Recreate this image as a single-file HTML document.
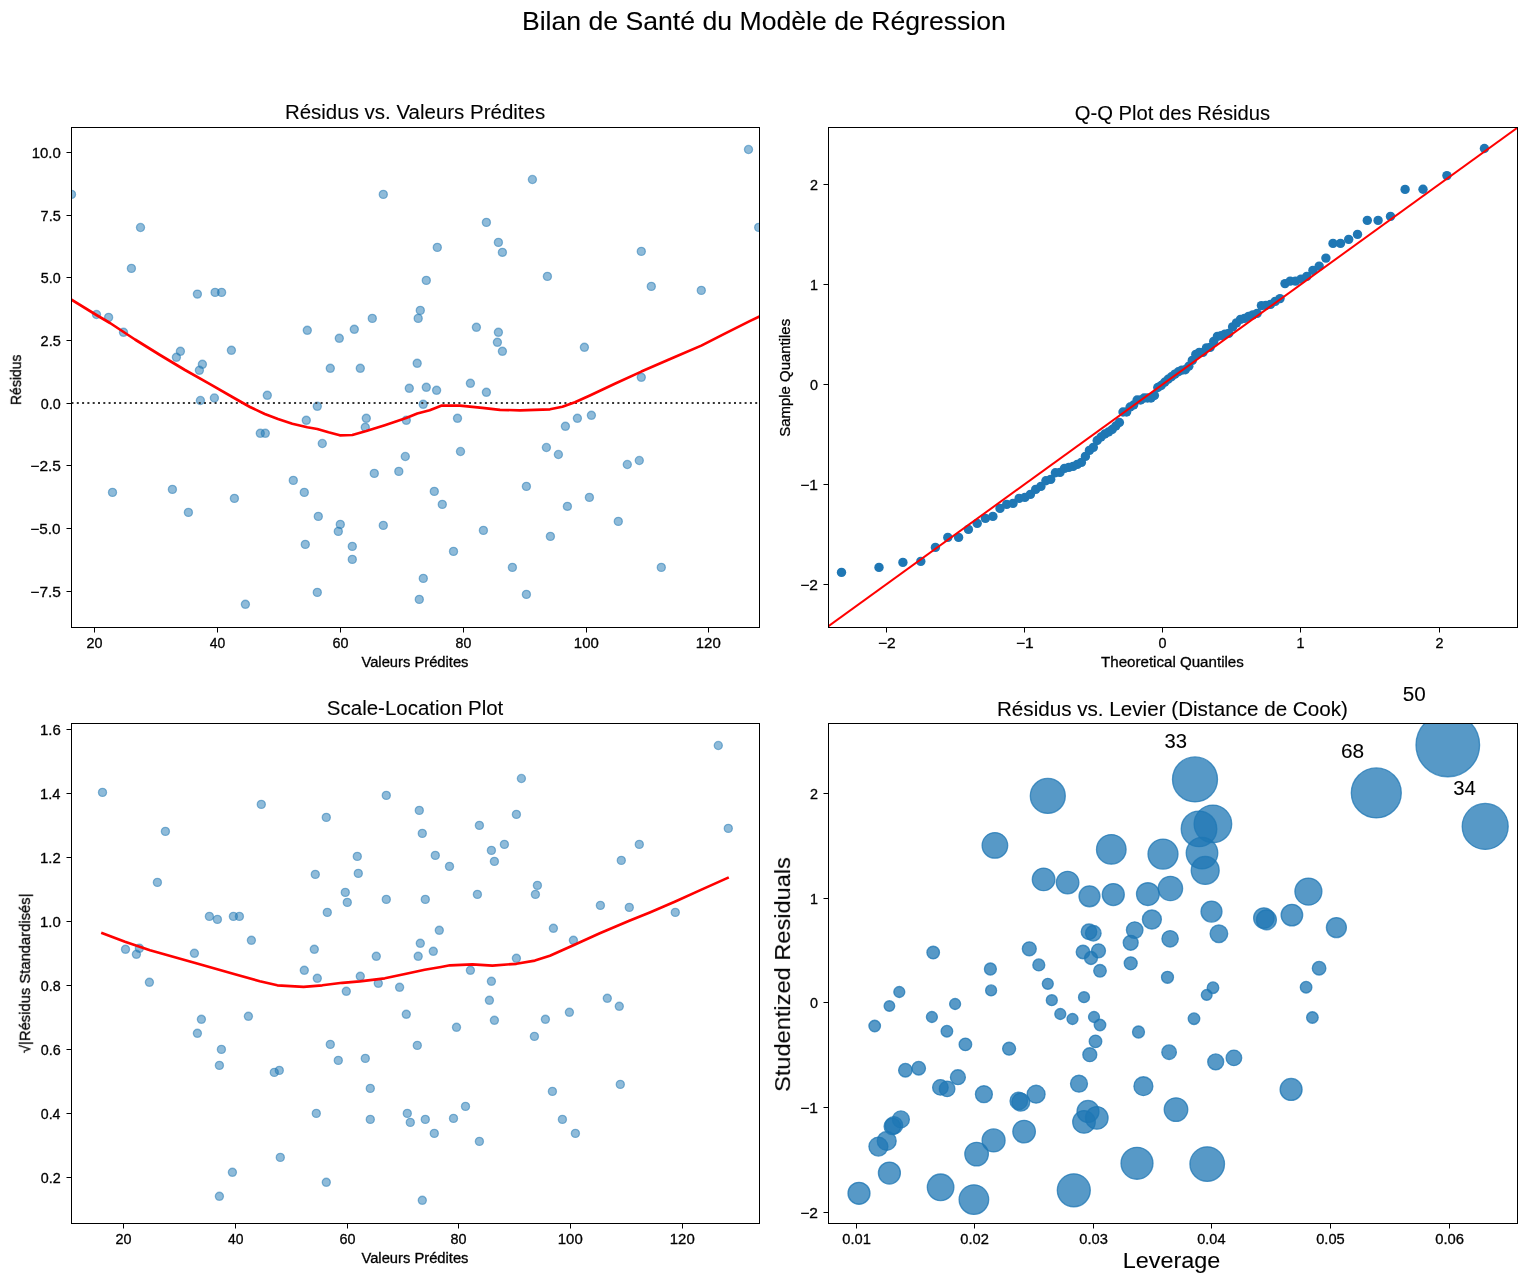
<!DOCTYPE html>
<html><head><meta charset="utf-8"><title>Bilan</title><style>html,body{margin:0;padding:0;background:#fff}svg{display:block}</style></head><body>
<svg width="1526" height="1281" viewBox="0 0 1526 1281" font-family="Liberation Sans, sans-serif" fill="#000">
<rect width="1526" height="1281" fill="#fff"/>
<defs>
<clipPath id="c1"><rect x="71.5" y="127.5" width="688.0" height="500.0"/></clipPath>
<clipPath id="c2"><rect x="828.5" y="127.5" width="689.0" height="500.0"/></clipPath>
<clipPath id="c3"><rect x="71.5" y="723.5" width="688.0" height="500.0"/></clipPath>
<clipPath id="c4"><rect x="828.5" y="723.5" width="689.0" height="500.0"/></clipPath>
</defs>
<g clip-path="url(#c1)" fill="#1f77b4" fill-opacity="0.5" stroke="#1f77b4" stroke-opacity="0.5" stroke-width="1.33">
<circle cx="71.5" cy="194.4" r="4.05"/>
<circle cx="140.5" cy="227.5" r="4.05"/>
<circle cx="131.4" cy="268.4" r="4.05"/>
<circle cx="96.5" cy="314.5" r="4.05"/>
<circle cx="108.6" cy="317.4" r="4.05"/>
<circle cx="123.5" cy="332.3" r="4.05"/>
<circle cx="197.4" cy="294.1" r="4.05"/>
<circle cx="215.1" cy="292.4" r="4.05"/>
<circle cx="221.6" cy="292.4" r="4.05"/>
<circle cx="180.4" cy="351.3" r="4.05"/>
<circle cx="176.4" cy="357.3" r="4.05"/>
<circle cx="202.4" cy="364.3" r="4.05"/>
<circle cx="199.4" cy="370.3" r="4.05"/>
<circle cx="231.4" cy="350.3" r="4.05"/>
<circle cx="200.4" cy="400.5" r="4.05"/>
<circle cx="214.4" cy="398.0" r="4.05"/>
<circle cx="267.3" cy="395.3" r="4.05"/>
<circle cx="307.3" cy="330.3" r="4.05"/>
<circle cx="383.3" cy="194.4" r="4.05"/>
<circle cx="372.3" cy="318.4" r="4.05"/>
<circle cx="354.3" cy="329.3" r="4.05"/>
<circle cx="339.3" cy="338.3" r="4.05"/>
<circle cx="330.3" cy="368.3" r="4.05"/>
<circle cx="360.3" cy="368.3" r="4.05"/>
<circle cx="317.3" cy="406.3" r="4.05"/>
<circle cx="306.3" cy="420.3" r="4.05"/>
<circle cx="366.3" cy="418.3" r="4.05"/>
<circle cx="365.3" cy="427.3" r="4.05"/>
<circle cx="260.3" cy="433.3" r="4.05"/>
<circle cx="265.3" cy="433.3" r="4.05"/>
<circle cx="437.3" cy="247.4" r="4.05"/>
<circle cx="426.3" cy="280.4" r="4.05"/>
<circle cx="420.3" cy="310.4" r="4.05"/>
<circle cx="418.2" cy="318.4" r="4.05"/>
<circle cx="417.2" cy="363.3" r="4.05"/>
<circle cx="409.3" cy="388.3" r="4.05"/>
<circle cx="426.3" cy="387.3" r="4.05"/>
<circle cx="436.6" cy="390.3" r="4.05"/>
<circle cx="423.2" cy="404.3" r="4.05"/>
<circle cx="406.3" cy="420.3" r="4.05"/>
<circle cx="532.4" cy="179.5" r="4.05"/>
<circle cx="486.4" cy="222.4" r="4.05"/>
<circle cx="498.4" cy="242.4" r="4.05"/>
<circle cx="502.4" cy="252.4" r="4.05"/>
<circle cx="547.4" cy="276.4" r="4.05"/>
<circle cx="641.3" cy="251.4" r="4.05"/>
<circle cx="651.3" cy="286.4" r="4.05"/>
<circle cx="701.3" cy="290.4" r="4.05"/>
<circle cx="748.5" cy="149.5" r="4.05"/>
<circle cx="758.7" cy="227.4" r="4.05"/>
<circle cx="476.4" cy="327.3" r="4.05"/>
<circle cx="498.4" cy="332.3" r="4.05"/>
<circle cx="497.4" cy="342.3" r="4.05"/>
<circle cx="502.4" cy="351.3" r="4.05"/>
<circle cx="584.4" cy="347.3" r="4.05"/>
<circle cx="470.4" cy="383.3" r="4.05"/>
<circle cx="486.4" cy="392.3" r="4.05"/>
<circle cx="641.3" cy="377.3" r="4.05"/>
<circle cx="457.5" cy="418.3" r="4.05"/>
<circle cx="565.4" cy="426.3" r="4.05"/>
<circle cx="577.4" cy="418.3" r="4.05"/>
<circle cx="591.4" cy="415.3" r="4.05"/>
<circle cx="322.3" cy="443.5" r="4.05"/>
<circle cx="405.3" cy="456.5" r="4.05"/>
<circle cx="398.8" cy="471.4" r="4.05"/>
<circle cx="374.3" cy="473.4" r="4.05"/>
<circle cx="293.3" cy="480.4" r="4.05"/>
<circle cx="304.3" cy="492.4" r="4.05"/>
<circle cx="112.5" cy="492.4" r="4.05"/>
<circle cx="172.4" cy="489.4" r="4.05"/>
<circle cx="234.4" cy="498.4" r="4.05"/>
<circle cx="188.4" cy="512.4" r="4.05"/>
<circle cx="434.3" cy="491.4" r="4.05"/>
<circle cx="442.3" cy="504.4" r="4.05"/>
<circle cx="318.3" cy="516.4" r="4.05"/>
<circle cx="340.3" cy="524.4" r="4.05"/>
<circle cx="338.3" cy="531.4" r="4.05"/>
<circle cx="383.3" cy="525.4" r="4.05"/>
<circle cx="305.3" cy="544.4" r="4.05"/>
<circle cx="352.3" cy="546.4" r="4.05"/>
<circle cx="352.3" cy="559.4" r="4.05"/>
<circle cx="423.3" cy="578.4" r="4.05"/>
<circle cx="317.3" cy="592.4" r="4.05"/>
<circle cx="419.3" cy="599.4" r="4.05"/>
<circle cx="245.4" cy="604.3" r="4.05"/>
<circle cx="460.5" cy="451.5" r="4.05"/>
<circle cx="483.4" cy="530.4" r="4.05"/>
<circle cx="453.5" cy="551.4" r="4.05"/>
<circle cx="512.4" cy="567.4" r="4.05"/>
<circle cx="526.4" cy="594.4" r="4.05"/>
<circle cx="526.4" cy="486.4" r="4.05"/>
<circle cx="546.4" cy="447.5" r="4.05"/>
<circle cx="558.4" cy="454.5" r="4.05"/>
<circle cx="567.4" cy="506.4" r="4.05"/>
<circle cx="550.4" cy="536.4" r="4.05"/>
<circle cx="589.4" cy="497.4" r="4.05"/>
<circle cx="618.3" cy="521.4" r="4.05"/>
<circle cx="627.3" cy="464.5" r="4.05"/>
<circle cx="639.3" cy="460.5" r="4.05"/>
<circle cx="661.3" cy="567.4" r="4.05"/>
</g>
<path d="M71.5 403H759.5" stroke="#333" stroke-width="2" stroke-dasharray="2 3.3" fill="none"/>
<path clip-path="url(#c1)" d="M71.5 299.7 L96.4 315.0 L110.0 323.0 L135.0 339.5 L160.0 355.0 L185.0 370.0 L210.0 384.2 L235.0 398.5 L250.0 407.0 L264.8 414.0 L278.0 419.0 L292.3 423.7 L307.3 427.3 L317.3 429.0 L328.5 432.3 L339.8 435.3 L352.3 435.0 L366.3 431.0 L384.8 425.2 L406.2 418.0 L417.3 413.5 L429.7 410.2 L441.2 405.7 L460.0 405.6 L482.4 407.8 L500.0 409.8 L520.0 410.3 L550.0 409.3 L562.4 406.8 L574.9 402.3 L589.9 395.5 L614.8 383.8 L641.3 371.6 L674.8 357.1 L701.3 345.6 L724.8 333.6 L749.7 321.1 L759.5 316.4" fill="none" stroke="#f00" stroke-width="2.67" stroke-linejoin="round" stroke-linecap="butt"/>
<rect x="71.5" y="127.5" width="688.0" height="500.0" fill="none" stroke="#000" stroke-width="1" shape-rendering="crispEdges"/>
<path d="M94 627.5h1v5h-1zM217 627.5h1v5h-1zM340 627.5h1v5h-1zM463 627.5h1v5h-1zM586 627.5h1v5h-1zM708 627.5h1v5h-1z" fill="#000"/>
<path d="M71.5 152v1h-5v-1zM71.5 215v1h-5v-1zM71.5 277v1h-5v-1zM71.5 340v1h-5v-1zM71.5 403v1h-5v-1zM71.5 465v1h-5v-1zM71.5 528v1h-5v-1zM71.5 591v1h-5v-1z" fill="#000"/>
<g clip-path="url(#c2)" fill="#1f77b4">
<circle cx="841.5" cy="572.4" r="4.7"/>
<circle cx="879.0" cy="567.4" r="4.7"/>
<circle cx="902.9" cy="562.4" r="4.7"/>
<circle cx="920.8" cy="561.4" r="4.7"/>
<circle cx="935.4" cy="547.4" r="4.7"/>
<circle cx="947.8" cy="537.4" r="4.7"/>
<circle cx="958.6" cy="537.4" r="4.7"/>
<circle cx="968.4" cy="529.4" r="4.7"/>
<circle cx="977.2" cy="523.4" r="4.7"/>
<circle cx="985.4" cy="518.4" r="4.7"/>
<circle cx="992.9" cy="516.4" r="4.7"/>
<circle cx="1000.0" cy="508.4" r="4.7"/>
<circle cx="1006.7" cy="504.4" r="4.7"/>
<circle cx="1013.0" cy="503.4" r="4.7"/>
<circle cx="1019.1" cy="498.4" r="4.7"/>
<circle cx="1024.9" cy="497.4" r="4.7"/>
<circle cx="1030.4" cy="494.4" r="4.7"/>
<circle cx="1035.7" cy="489.4" r="4.7"/>
<circle cx="1040.9" cy="486.4" r="4.7"/>
<circle cx="1045.9" cy="480.7" r="4.7"/>
<circle cx="1050.7" cy="479.4" r="4.7"/>
<circle cx="1055.4" cy="472.7" r="4.7"/>
<circle cx="1060.0" cy="472.4" r="4.7"/>
<circle cx="1064.5" cy="468.4" r="4.7"/>
<circle cx="1068.8" cy="467.4" r="4.7"/>
<circle cx="1073.1" cy="466.4" r="4.7"/>
<circle cx="1077.3" cy="464.4" r="4.7"/>
<circle cx="1081.4" cy="462.4" r="4.7"/>
<circle cx="1085.4" cy="456.4" r="4.7"/>
<circle cx="1089.4" cy="450.4" r="4.7"/>
<circle cx="1093.3" cy="447.4" r="4.7"/>
<circle cx="1097.2" cy="440.5" r="4.7"/>
<circle cx="1101.0" cy="437.0" r="4.7"/>
<circle cx="1104.8" cy="434.0" r="4.7"/>
<circle cx="1108.5" cy="432.0" r="4.7"/>
<circle cx="1112.2" cy="429.5" r="4.7"/>
<circle cx="1115.8" cy="426.0" r="4.7"/>
<circle cx="1119.4" cy="422.5" r="4.7"/>
<circle cx="1123.0" cy="412.0" r="4.7"/>
<circle cx="1126.6" cy="412.0" r="4.7"/>
<circle cx="1130.1" cy="407.0" r="4.7"/>
<circle cx="1133.6" cy="405.0" r="4.7"/>
<circle cx="1137.1" cy="400.0" r="4.7"/>
<circle cx="1140.6" cy="400.0" r="4.7"/>
<circle cx="1144.1" cy="398.0" r="4.7"/>
<circle cx="1147.5" cy="398.0" r="4.7"/>
<circle cx="1151.0" cy="398.0" r="4.7"/>
<circle cx="1154.4" cy="395.5" r="4.7"/>
<circle cx="1157.8" cy="387.5" r="4.7"/>
<circle cx="1161.2" cy="385.5" r="4.7"/>
<circle cx="1164.7" cy="382.3" r="4.7"/>
<circle cx="1168.1" cy="379.3" r="4.7"/>
<circle cx="1171.5" cy="376.8" r="4.7"/>
<circle cx="1174.9" cy="374.1" r="4.7"/>
<circle cx="1178.4" cy="371.8" r="4.7"/>
<circle cx="1181.8" cy="370.1" r="4.7"/>
<circle cx="1185.3" cy="369.8" r="4.7"/>
<circle cx="1188.8" cy="366.3" r="4.7"/>
<circle cx="1192.3" cy="360.4" r="4.7"/>
<circle cx="1195.8" cy="354.4" r="4.7"/>
<circle cx="1199.3" cy="352.4" r="4.7"/>
<circle cx="1202.9" cy="352.4" r="4.7"/>
<circle cx="1206.5" cy="347.9" r="4.7"/>
<circle cx="1210.1" cy="347.4" r="4.7"/>
<circle cx="1213.7" cy="341.4" r="4.7"/>
<circle cx="1217.4" cy="336.4" r="4.7"/>
<circle cx="1221.1" cy="335.6" r="4.7"/>
<circle cx="1224.9" cy="334.1" r="4.7"/>
<circle cx="1228.7" cy="333.4" r="4.7"/>
<circle cx="1232.6" cy="326.9" r="4.7"/>
<circle cx="1236.5" cy="322.9" r="4.7"/>
<circle cx="1240.5" cy="319.4" r="4.7"/>
<circle cx="1244.5" cy="318.4" r="4.7"/>
<circle cx="1248.6" cy="316.4" r="4.7"/>
<circle cx="1252.8" cy="314.9" r="4.7"/>
<circle cx="1257.1" cy="313.4" r="4.7"/>
<circle cx="1261.4" cy="305.6" r="4.7"/>
<circle cx="1265.9" cy="305.4" r="4.7"/>
<circle cx="1270.5" cy="304.4" r="4.7"/>
<circle cx="1275.2" cy="301.4" r="4.7"/>
<circle cx="1280.0" cy="298.6" r="4.7"/>
<circle cx="1285.0" cy="283.6" r="4.7"/>
<circle cx="1290.2" cy="281.1" r="4.7"/>
<circle cx="1295.5" cy="281.1" r="4.7"/>
<circle cx="1301.0" cy="279.1" r="4.7"/>
<circle cx="1306.8" cy="276.4" r="4.7"/>
<circle cx="1312.9" cy="270.4" r="4.7"/>
<circle cx="1319.2" cy="266.1" r="4.7"/>
<circle cx="1325.9" cy="258.1" r="4.7"/>
<circle cx="1333.0" cy="243.4" r="4.7"/>
<circle cx="1340.5" cy="243.4" r="4.7"/>
<circle cx="1348.7" cy="239.4" r="4.7"/>
<circle cx="1357.5" cy="234.4" r="4.7"/>
<circle cx="1367.3" cy="220.4" r="4.7"/>
<circle cx="1378.1" cy="220.4" r="4.7"/>
<circle cx="1390.5" cy="216.4" r="4.7"/>
<circle cx="1405.1" cy="189.4" r="4.7"/>
<circle cx="1423.0" cy="189.2" r="4.7"/>
<circle cx="1446.9" cy="175.6" r="4.7"/>
<circle cx="1484.4" cy="148.5" r="4.7"/>
</g>
<path clip-path="url(#c2)" d="M826.7 627.5 L1519.5 126.2" fill="none" stroke="#f00" stroke-width="2.00" stroke-linejoin="round" stroke-linecap="butt"/>
<rect x="828.5" y="127.5" width="689.0" height="500.0" fill="none" stroke="#000" stroke-width="1" shape-rendering="crispEdges"/>
<path d="M886 627.5h1v5h-1zM1024 627.5h1v5h-1zM1162 627.5h1v5h-1zM1300 627.5h1v5h-1zM1439 627.5h1v5h-1z" fill="#000"/>
<path d="M828.5 184v1h-5v-1zM828.5 284v1h-5v-1zM828.5 384v1h-5v-1zM828.5 484v1h-5v-1zM828.5 584v1h-5v-1z" fill="#000"/>
<g clip-path="url(#c3)" fill="#1f77b4" fill-opacity="0.5" stroke="#1f77b4" stroke-opacity="0.5" stroke-width="1.33">
<circle cx="102.5" cy="792.4" r="4.05"/>
<circle cx="165.4" cy="831.4" r="4.05"/>
<circle cx="157.4" cy="882.4" r="4.05"/>
<circle cx="261.3" cy="804.4" r="4.05"/>
<circle cx="326.3" cy="817.4" r="4.05"/>
<circle cx="386.3" cy="795.4" r="4.05"/>
<circle cx="419.3" cy="810.4" r="4.05"/>
<circle cx="422.3" cy="833.4" r="4.05"/>
<circle cx="435.3" cy="855.4" r="4.05"/>
<circle cx="357.3" cy="856.4" r="4.05"/>
<circle cx="358.3" cy="873.4" r="4.05"/>
<circle cx="315.3" cy="874.4" r="4.05"/>
<circle cx="345.3" cy="892.4" r="4.05"/>
<circle cx="347.3" cy="902.4" r="4.05"/>
<circle cx="386.3" cy="899.4" r="4.05"/>
<circle cx="425.3" cy="899.4" r="4.05"/>
<circle cx="327.3" cy="912.4" r="4.05"/>
<circle cx="209.4" cy="916.4" r="4.05"/>
<circle cx="217.4" cy="919.4" r="4.05"/>
<circle cx="233.4" cy="916.4" r="4.05"/>
<circle cx="239.4" cy="916.4" r="4.05"/>
<circle cx="251.4" cy="940.3" r="4.05"/>
<circle cx="439.3" cy="930.3" r="4.05"/>
<circle cx="420.3" cy="943.3" r="4.05"/>
<circle cx="433.3" cy="951.3" r="4.05"/>
<circle cx="418.2" cy="956.3" r="4.05"/>
<circle cx="125.5" cy="949.3" r="4.05"/>
<circle cx="139.4" cy="948.3" r="4.05"/>
<circle cx="136.4" cy="954.3" r="4.05"/>
<circle cx="194.4" cy="953.3" r="4.05"/>
<circle cx="314.3" cy="949.3" r="4.05"/>
<circle cx="376.3" cy="956.3" r="4.05"/>
<circle cx="304.3" cy="970.3" r="4.05"/>
<circle cx="317.3" cy="978.3" r="4.05"/>
<circle cx="360.3" cy="976.3" r="4.05"/>
<circle cx="378.3" cy="983.3" r="4.05"/>
<circle cx="149.4" cy="982.3" r="4.05"/>
<circle cx="399.6" cy="987.3" r="4.05"/>
<circle cx="346.3" cy="991.3" r="4.05"/>
<circle cx="406.3" cy="1014.3" r="4.05"/>
<circle cx="248.4" cy="1016.3" r="4.05"/>
<circle cx="201.4" cy="1019.3" r="4.05"/>
<circle cx="197.4" cy="1033.3" r="4.05"/>
<circle cx="718.3" cy="745.5" r="4.05"/>
<circle cx="728.3" cy="828.4" r="4.05"/>
<circle cx="521.4" cy="778.5" r="4.05"/>
<circle cx="516.4" cy="814.4" r="4.05"/>
<circle cx="479.4" cy="825.4" r="4.05"/>
<circle cx="504.4" cy="844.4" r="4.05"/>
<circle cx="491.4" cy="850.4" r="4.05"/>
<circle cx="494.4" cy="861.4" r="4.05"/>
<circle cx="449.5" cy="866.4" r="4.05"/>
<circle cx="639.3" cy="844.4" r="4.05"/>
<circle cx="621.3" cy="860.4" r="4.05"/>
<circle cx="537.4" cy="885.4" r="4.05"/>
<circle cx="535.4" cy="894.4" r="4.05"/>
<circle cx="477.4" cy="894.4" r="4.05"/>
<circle cx="600.4" cy="905.4" r="4.05"/>
<circle cx="629.3" cy="907.4" r="4.05"/>
<circle cx="675.3" cy="912.4" r="4.05"/>
<circle cx="553.4" cy="928.3" r="4.05"/>
<circle cx="573.4" cy="940.3" r="4.05"/>
<circle cx="516.4" cy="958.3" r="4.05"/>
<circle cx="470.4" cy="970.3" r="4.05"/>
<circle cx="491.4" cy="981.3" r="4.05"/>
<circle cx="489.4" cy="1000.3" r="4.05"/>
<circle cx="607.3" cy="998.3" r="4.05"/>
<circle cx="619.3" cy="1006.3" r="4.05"/>
<circle cx="569.4" cy="1012.3" r="4.05"/>
<circle cx="545.4" cy="1019.3" r="4.05"/>
<circle cx="494.4" cy="1020.3" r="4.05"/>
<circle cx="456.5" cy="1027.3" r="4.05"/>
<circle cx="534.4" cy="1036.4" r="4.05"/>
<circle cx="221.4" cy="1049.4" r="4.05"/>
<circle cx="219.4" cy="1065.4" r="4.05"/>
<circle cx="279.3" cy="1070.4" r="4.05"/>
<circle cx="274.3" cy="1072.4" r="4.05"/>
<circle cx="330.3" cy="1044.4" r="4.05"/>
<circle cx="338.3" cy="1060.4" r="4.05"/>
<circle cx="365.3" cy="1058.4" r="4.05"/>
<circle cx="417.3" cy="1045.4" r="4.05"/>
<circle cx="370.3" cy="1088.4" r="4.05"/>
<circle cx="316.3" cy="1113.4" r="4.05"/>
<circle cx="370.3" cy="1119.4" r="4.05"/>
<circle cx="407.3" cy="1113.4" r="4.05"/>
<circle cx="410.3" cy="1122.4" r="4.05"/>
<circle cx="425.3" cy="1119.4" r="4.05"/>
<circle cx="434.3" cy="1133.4" r="4.05"/>
<circle cx="280.3" cy="1157.4" r="4.05"/>
<circle cx="232.4" cy="1172.3" r="4.05"/>
<circle cx="326.3" cy="1182.3" r="4.05"/>
<circle cx="219.4" cy="1196.3" r="4.05"/>
<circle cx="422.3" cy="1200.3" r="4.05"/>
<circle cx="620.3" cy="1084.4" r="4.05"/>
<circle cx="552.4" cy="1091.4" r="4.05"/>
<circle cx="465.5" cy="1106.4" r="4.05"/>
<circle cx="453.5" cy="1118.4" r="4.05"/>
<circle cx="562.4" cy="1119.4" r="4.05"/>
<circle cx="575.4" cy="1133.4" r="4.05"/>
<circle cx="479.4" cy="1141.4" r="4.05"/>
</g>
<path clip-path="url(#c3)" d="M101.2 932.8 L125.0 941.8 L150.0 950.3 L194.4 962.8 L234.9 974.3 L259.8 981.3 L277.3 985.3 L303.6 986.8 L322.3 985.3 L342.3 982.8 L359.8 981.3 L384.8 978.3 L406.2 973.8 L424.7 969.8 L441.0 967.0 L450.0 965.3 L472.4 964.3 L492.4 965.6 L516.4 963.8 L534.9 960.6 L549.9 955.8 L573.4 945.3 L599.8 933.3 L629.3 920.8 L649.8 912.4 L675.3 901.4 L699.8 890.4 L728.8 877.4" fill="none" stroke="#f00" stroke-width="2.67" stroke-linejoin="round" stroke-linecap="butt"/>
<rect x="71.5" y="723.5" width="688.0" height="500.0" fill="none" stroke="#000" stroke-width="1" shape-rendering="crispEdges"/>
<path d="M123 1223.5h1v5h-1zM235 1223.5h1v5h-1zM347 1223.5h1v5h-1zM458 1223.5h1v5h-1zM570 1223.5h1v5h-1zM682 1223.5h1v5h-1z" fill="#000"/>
<path d="M71.5 729v1h-5v-1zM71.5 793v1h-5v-1zM71.5 857v1h-5v-1zM71.5 921v1h-5v-1zM71.5 985v1h-5v-1zM71.5 1049v1h-5v-1zM71.5 1113v1h-5v-1zM71.5 1177v1h-5v-1z" fill="#000"/>
<g clip-path="url(#c4)" fill="#1f77b4" fill-opacity="0.75" stroke="#1f77b4" stroke-opacity="0.75" stroke-width="1.33">
<circle cx="1447.8" cy="745.0" r="31.78"/>
<circle cx="1376.3" cy="792.9" r="24.98"/>
<circle cx="1485.2" cy="826.4" r="22.98"/>
<circle cx="1195.0" cy="779.4" r="22.48"/>
<circle cx="1212.9" cy="823.9" r="18.78"/>
<circle cx="1199.0" cy="828.9" r="17.78"/>
<circle cx="1202.0" cy="853.1" r="15.78"/>
<circle cx="1205.2" cy="870.4" r="13.98"/>
<circle cx="1163.0" cy="854.1" r="14.98"/>
<circle cx="1170.4" cy="888.5" r="12.18"/>
<circle cx="1147.9" cy="894.1" r="11.38"/>
<circle cx="1308.4" cy="891.6" r="13.48"/>
<circle cx="1211.5" cy="911.6" r="10.48"/>
<circle cx="1151.9" cy="919.5" r="9.48"/>
<circle cx="1263.9" cy="918.1" r="10.28"/>
<circle cx="1266.4" cy="919.8" r="9.98"/>
<circle cx="1291.9" cy="915.1" r="10.78"/>
<circle cx="1336.4" cy="927.6" r="9.98"/>
<circle cx="1218.9" cy="933.8" r="8.78"/>
<circle cx="1170.1" cy="938.8" r="8.18"/>
<circle cx="1319.1" cy="968.2" r="6.78"/>
<circle cx="1167.5" cy="977.3" r="5.98"/>
<circle cx="1213.0" cy="987.7" r="5.78"/>
<circle cx="1306.1" cy="987.2" r="5.78"/>
<circle cx="1206.7" cy="994.9" r="5.38"/>
<circle cx="1047.8" cy="795.9" r="17.48"/>
<circle cx="994.9" cy="845.4" r="12.78"/>
<circle cx="1111.3" cy="849.4" r="14.78"/>
<circle cx="1043.6" cy="879.4" r="11.28"/>
<circle cx="1067.6" cy="882.6" r="11.28"/>
<circle cx="1089.5" cy="896.3" r="10.48"/>
<circle cx="1113.3" cy="894.6" r="10.98"/>
<circle cx="1134.7" cy="930.1" r="8.28"/>
<circle cx="1130.7" cy="942.8" r="7.48"/>
<circle cx="1089.0" cy="931.8" r="7.78"/>
<circle cx="1093.3" cy="933.3" r="7.78"/>
<circle cx="1029.3" cy="948.8" r="6.98"/>
<circle cx="933.2" cy="952.5" r="6.28"/>
<circle cx="1083.0" cy="952.0" r="6.78"/>
<circle cx="1098.5" cy="950.8" r="6.98"/>
<circle cx="1091.0" cy="958.0" r="6.48"/>
<circle cx="1130.7" cy="963.3" r="6.48"/>
<circle cx="1038.8" cy="964.9" r="5.98"/>
<circle cx="990.4" cy="969.0" r="5.98"/>
<circle cx="1100.0" cy="970.8" r="6.28"/>
<circle cx="1047.8" cy="983.8" r="5.48"/>
<circle cx="991.1" cy="990.4" r="5.48"/>
<circle cx="899.3" cy="992.0" r="5.48"/>
<circle cx="1084.0" cy="997.2" r="5.48"/>
<circle cx="1051.8" cy="1000.2" r="5.48"/>
<circle cx="955.1" cy="1004.0" r="5.48"/>
<circle cx="889.4" cy="1006.0" r="5.28"/>
<circle cx="1060.3" cy="1014.0" r="5.48"/>
<circle cx="1072.5" cy="1019.0" r="5.48"/>
<circle cx="1094.0" cy="1017.0" r="5.48"/>
<circle cx="1100.0" cy="1025.0" r="5.78"/>
<circle cx="931.9" cy="1017.0" r="5.48"/>
<circle cx="874.7" cy="1026.0" r="5.78"/>
<circle cx="946.9" cy="1031.2" r="5.78"/>
<circle cx="1138.5" cy="1032.0" r="5.98"/>
<circle cx="965.4" cy="1044.4" r="6.28"/>
<circle cx="1009.1" cy="1048.7" r="6.48"/>
<circle cx="1095.5" cy="1041.4" r="6.28"/>
<circle cx="1089.8" cy="1054.7" r="6.98"/>
<circle cx="1169.1" cy="1052.2" r="7.28"/>
<circle cx="905.4" cy="1070.2" r="6.78"/>
<circle cx="918.7" cy="1068.2" r="6.78"/>
<circle cx="957.9" cy="1077.2" r="7.48"/>
<circle cx="940.4" cy="1087.4" r="7.78"/>
<circle cx="947.1" cy="1088.9" r="7.78"/>
<circle cx="983.9" cy="1094.2" r="8.48"/>
<circle cx="1036.1" cy="1094.2" r="8.98"/>
<circle cx="1018.8" cy="1100.9" r="8.78"/>
<circle cx="1020.8" cy="1102.1" r="8.98"/>
<circle cx="1079.0" cy="1083.7" r="8.48"/>
<circle cx="1143.4" cy="1086.2" r="9.48"/>
<circle cx="1176.0" cy="1109.6" r="11.78"/>
<circle cx="900.9" cy="1119.4" r="8.48"/>
<circle cx="893.9" cy="1125.4" r="8.78"/>
<circle cx="892.4" cy="1126.4" r="8.28"/>
<circle cx="886.7" cy="1140.9" r="9.48"/>
<circle cx="878.4" cy="1146.6" r="9.48"/>
<circle cx="1088.0" cy="1111.4" r="10.98"/>
<circle cx="1084.0" cy="1121.9" r="11.28"/>
<circle cx="1096.8" cy="1117.9" r="11.28"/>
<circle cx="1024.1" cy="1131.6" r="11.28"/>
<circle cx="993.6" cy="1140.4" r="11.48"/>
<circle cx="976.6" cy="1154.1" r="11.78"/>
<circle cx="889.4" cy="1173.1" r="10.98"/>
<circle cx="859.0" cy="1193.3" r="10.98"/>
<circle cx="940.6" cy="1187.3" r="13.28"/>
<circle cx="973.9" cy="1199.6" r="14.78"/>
<circle cx="1073.8" cy="1190.3" r="16.48"/>
<circle cx="1137.0" cy="1163.3" r="15.98"/>
<circle cx="1194.0" cy="1018.7" r="5.78"/>
<circle cx="1312.4" cy="1017.5" r="5.78"/>
<circle cx="1233.9" cy="1057.9" r="7.78"/>
<circle cx="1215.7" cy="1061.9" r="7.98"/>
<circle cx="1291.1" cy="1089.4" r="10.98"/>
<circle cx="1207.2" cy="1164.1" r="17.28"/>
</g>
<rect x="828.5" y="723.5" width="689.0" height="500.0" fill="none" stroke="#000" stroke-width="1" shape-rendering="crispEdges"/>
<path d="M856 1223.5h1v5h-1zM974 1223.5h1v5h-1zM1093 1223.5h1v5h-1zM1211 1223.5h1v5h-1zM1330 1223.5h1v5h-1zM1449 1223.5h1v5h-1z" fill="#000"/>
<path d="M828.5 793v1h-5v-1zM828.5 898v1h-5v-1zM828.5 1002v1h-5v-1zM828.5 1107v1h-5v-1zM828.5 1212v1h-5v-1z" fill="#000"/>
<g style="opacity:0.999" stroke="#000" stroke-width="0.3">
<text x="521.90" y="30.00" font-size="25.32" textLength="483.98" lengthAdjust="spacingAndGlyphs" stroke-width="0.1">Bilan de Santé du Modèle de Régression</text>
<text x="86.44" y="648.00" font-size="14.07" textLength="16.03" lengthAdjust="spacingAndGlyphs">20</text>
<text x="209.84" y="648.00" font-size="14.07" textLength="15.47" lengthAdjust="spacingAndGlyphs">40</text>
<text x="332.49" y="648.00" font-size="14.07" textLength="16.03" lengthAdjust="spacingAndGlyphs">60</text>
<text x="455.64" y="648.00" font-size="14.07" textLength="15.75" lengthAdjust="spacingAndGlyphs">80</text>
<text x="573.89" y="648.00" font-size="14.07" textLength="24.92" lengthAdjust="spacingAndGlyphs">100</text>
<text x="695.79" y="648.00" font-size="14.07" textLength="24.92" lengthAdjust="spacingAndGlyphs">120</text>
<text x="31.76" y="158.00" font-size="14.07" textLength="29.09" lengthAdjust="spacingAndGlyphs">10.0</text>
<text x="40.57" y="221.00" font-size="14.07" textLength="20.20" lengthAdjust="spacingAndGlyphs">7.5</text>
<text x="40.82" y="283.00" font-size="14.07" textLength="19.93" lengthAdjust="spacingAndGlyphs">5.0</text>
<text x="40.57" y="346.00" font-size="14.07" textLength="20.19" lengthAdjust="spacingAndGlyphs">2.5</text>
<text x="40.82" y="409.00" font-size="14.07" textLength="19.93" lengthAdjust="spacingAndGlyphs">0.0</text>
<text x="30.37" y="471.00" font-size="14.07" textLength="30.52" lengthAdjust="spacingAndGlyphs">−2.5</text>
<text x="30.37" y="534.00" font-size="14.07" textLength="30.26" lengthAdjust="spacingAndGlyphs">−5.0</text>
<text x="30.37" y="597.00" font-size="14.07" textLength="30.52" lengthAdjust="spacingAndGlyphs">−7.5</text>
<text x="284.90" y="119.00" font-size="19.69" textLength="260.30" lengthAdjust="spacingAndGlyphs" stroke-width="0.1">Résidus vs. Valeurs Prédites</text>
<text x="361.45" y="667.00" font-size="14.07" textLength="107.06" lengthAdjust="spacingAndGlyphs">Valeurs Prédites</text>
<text x="21.00" y="405.10" font-size="14.07" textLength="50.55" lengthAdjust="spacingAndGlyphs" transform="rotate(-90 21.00 405.10)">Résidus</text>
<text x="877.92" y="648.00" font-size="14.07" textLength="17.74" lengthAdjust="spacingAndGlyphs">−2</text>
<text x="1016.02" y="648.00" font-size="14.07" textLength="17.73" lengthAdjust="spacingAndGlyphs">−1</text>
<text x="1162.50" y="648.00" font-size="14.35" text-anchor="middle">0</text>
<text x="1300.50" y="648.00" font-size="14.35" text-anchor="middle">1</text>
<text x="1439.50" y="648.00" font-size="14.35" text-anchor="middle">2</text>
<text x="814.06" y="190.00" font-size="14.35" text-anchor="middle">2</text>
<text x="814.06" y="290.00" font-size="14.35" text-anchor="middle">1</text>
<text x="814.06" y="390.00" font-size="14.35" text-anchor="middle">0</text>
<text x="800.20" y="490.00" font-size="14.07" textLength="17.73" lengthAdjust="spacingAndGlyphs">−1</text>
<text x="800.20" y="590.00" font-size="14.07" textLength="17.73" lengthAdjust="spacingAndGlyphs">−2</text>
<text x="1074.85" y="120.00" font-size="19.69" textLength="195.34" lengthAdjust="spacingAndGlyphs" stroke-width="0.1">Q-Q Plot des Résidus</text>
<text x="1101.00" y="667.00" font-size="14.07" textLength="142.82" lengthAdjust="spacingAndGlyphs">Theoretical Quantiles</text>
<text x="790.00" y="436.70" font-size="14.07" textLength="117.83" lengthAdjust="spacingAndGlyphs" transform="rotate(-90 790.00 436.70)">Sample Quantiles</text>
<text x="115.44" y="1244.00" font-size="14.07" textLength="16.03" lengthAdjust="spacingAndGlyphs">20</text>
<text x="227.94" y="1244.00" font-size="14.07" textLength="15.49" lengthAdjust="spacingAndGlyphs">40</text>
<text x="339.44" y="1244.00" font-size="14.07" textLength="16.03" lengthAdjust="spacingAndGlyphs">60</text>
<text x="450.44" y="1244.00" font-size="14.07" textLength="16.04" lengthAdjust="spacingAndGlyphs">80</text>
<text x="557.79" y="1244.00" font-size="14.07" textLength="24.92" lengthAdjust="spacingAndGlyphs">100</text>
<text x="669.79" y="1244.00" font-size="14.07" textLength="24.92" lengthAdjust="spacingAndGlyphs">120</text>
<text x="40.07" y="735.00" font-size="14.07" textLength="20.75" lengthAdjust="spacingAndGlyphs">1.6</text>
<text x="40.07" y="799.00" font-size="14.07" textLength="20.47" lengthAdjust="spacingAndGlyphs">1.4</text>
<text x="40.07" y="863.00" font-size="14.07" textLength="20.75" lengthAdjust="spacingAndGlyphs">1.2</text>
<text x="40.07" y="927.00" font-size="14.07" textLength="20.74" lengthAdjust="spacingAndGlyphs">1.0</text>
<text x="40.82" y="991.00" font-size="14.07" textLength="19.92" lengthAdjust="spacingAndGlyphs">0.8</text>
<text x="40.82" y="1055.00" font-size="14.07" textLength="19.93" lengthAdjust="spacingAndGlyphs">0.6</text>
<text x="40.82" y="1119.00" font-size="14.07" textLength="19.67" lengthAdjust="spacingAndGlyphs">0.4</text>
<text x="40.82" y="1183.00" font-size="14.07" textLength="19.94" lengthAdjust="spacingAndGlyphs">0.2</text>
<text x="326.85" y="715.00" font-size="19.69" textLength="176.47" lengthAdjust="spacingAndGlyphs" stroke-width="0.1">Scale-Location Plot</text>
<text x="361.45" y="1263.00" font-size="14.07" textLength="107.06" lengthAdjust="spacingAndGlyphs">Valeurs Prédites</text>
<text x="30.00" y="1053.10" font-size="14.07" textLength="159.58" lengthAdjust="spacingAndGlyphs" transform="rotate(-90 30.00 1053.10)">√|Résidus Standardisés|</text>
<text x="842.36" y="1244.00" font-size="14.07" textLength="28.56" lengthAdjust="spacingAndGlyphs">0.01</text>
<text x="960.32" y="1244.00" font-size="14.07" textLength="28.57" lengthAdjust="spacingAndGlyphs">0.02</text>
<text x="1079.28" y="1244.00" font-size="14.07" textLength="28.56" lengthAdjust="spacingAndGlyphs">0.03</text>
<text x="1197.24" y="1244.00" font-size="14.07" textLength="28.29" lengthAdjust="spacingAndGlyphs">0.04</text>
<text x="1316.20" y="1244.00" font-size="14.07" textLength="28.55" lengthAdjust="spacingAndGlyphs">0.05</text>
<text x="1435.16" y="1244.00" font-size="14.07" textLength="28.83" lengthAdjust="spacingAndGlyphs">0.06</text>
<text x="814.06" y="799.00" font-size="14.35" text-anchor="middle">2</text>
<text x="814.06" y="904.00" font-size="14.35" text-anchor="middle">1</text>
<text x="814.06" y="1008.00" font-size="14.35" text-anchor="middle">0</text>
<text x="800.20" y="1113.00" font-size="14.07" textLength="17.73" lengthAdjust="spacingAndGlyphs">−1</text>
<text x="800.20" y="1218.00" font-size="14.07" textLength="17.73" lengthAdjust="spacingAndGlyphs">−2</text>
<text x="996.95" y="716.00" font-size="19.69" textLength="350.96" lengthAdjust="spacingAndGlyphs" stroke-width="0.1">Résidus vs. Levier (Distance de Cook)</text>
<text x="1122.75" y="1268.00" font-size="22.51" textLength="97.56" lengthAdjust="spacingAndGlyphs" stroke-width="0.1">Leverage</text>
<text x="790.00" y="1091.90" font-size="22.51" textLength="234.87" lengthAdjust="spacingAndGlyphs" stroke-width="0.1" transform="rotate(-90 790.00 1091.90)">Studentized Residuals</text>
<text x="1402.85" y="701.00" font-size="20.26" textLength="22.99" lengthAdjust="spacingAndGlyphs" stroke-width="0.1">50</text>
<text x="1164.40" y="748.00" font-size="20.26" textLength="22.51" lengthAdjust="spacingAndGlyphs" stroke-width="0.1">33</text>
<text x="1340.95" y="758.00" font-size="20.26" textLength="23.19" lengthAdjust="spacingAndGlyphs" stroke-width="0.1">68</text>
<text x="1453.30" y="795.00" font-size="20.26" textLength="22.54" lengthAdjust="spacingAndGlyphs" stroke-width="0.1">34</text>
</g>
</svg>
</body></html>
